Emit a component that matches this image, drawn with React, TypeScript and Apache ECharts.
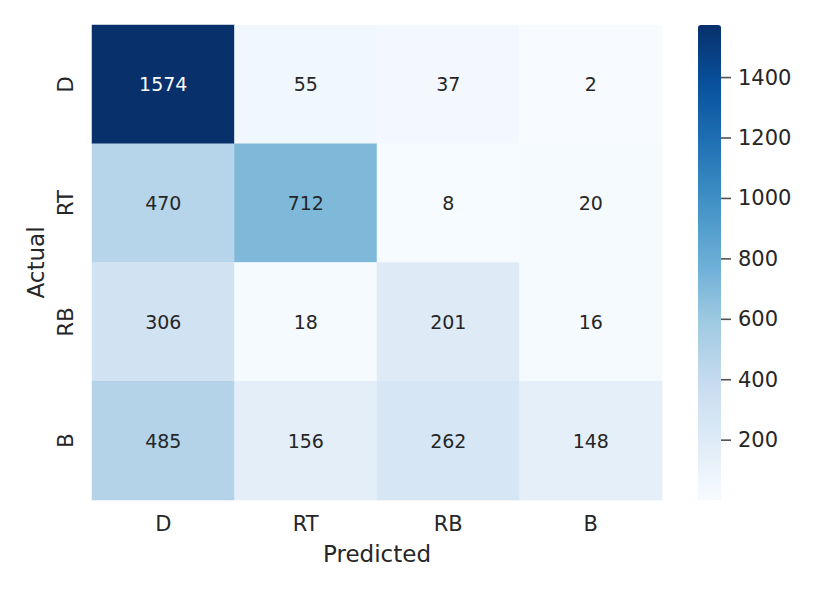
import React, { useEffect, useRef } from "react";
import * as echarts from "echarts";

const predictedLabels = ["D", "RT", "RB", "B"];
const actualLabels = ["D", "RT", "RB", "B"];
const rowD = [1574, 55, 37, 2];
const rowRT = [470, 712, 8, 20];
const rowRB = [306, 18, 201, 16];
const rowB = [485, 156, 262, 148];
const colorbarTicks = [200, 400, 600, 800, 1000, 1200, 1400];

const BLUES = ["#f7fbff", "#deebf7", "#c6dbef", "#9ecae1", "#6baed6", "#4292c6", "#2171b5", "#08519c", "#08306b"];
const FONT = "DejaVu Sans";
const TXT = "#262626";

export default function App() {
  const ref = useRef<HTMLDivElement>(null);
  useEffect(() => {
    if (!ref.current) return;
    const chart = echarts.init(ref.current, null, { renderer: "svg" });
    const rows = [rowD, rowRT, rowRB, rowB];
    const all = rows.flat();
    const vmin = Math.min(...all);
    const vmax = Math.max(...all);
    const data: any[] = [];
    rows.forEach((row, yi) =>
      row.forEach((v, xi) => {
        const t = (v - vmin) / (vmax - vmin);
        data.push({ value: [xi, yi, v], label: { color: t > 0.6 ? "#ffffff" : TXT } });
      })
    );
    chart.setOption({
      animation: false,
      backgroundColor: "#ffffff",
      textStyle: { fontFamily: FONT },
      grid: [
        { left: 92, top: 25, width: 570, height: 475 },
        { left: 698, top: 25, width: 23, height: 475 },
      ],
      xAxis: [
        {
          type: "category",
          data: predictedLabels,
          gridIndex: 0,
          position: "bottom",
          axisLine: { show: false },
          axisTick: { show: false },
          splitLine: { show: false },
          axisLabel: { color: TXT, fontSize: 21, fontFamily: FONT, margin: 13 },
          name: "Predicted",
          nameLocation: "middle",
          nameGap: 42,
          nameTextStyle: { color: TXT, fontSize: 23, fontFamily: FONT },
        },
        { type: "value", gridIndex: 1, show: false, min: 0, max: 1 },
      ],
      yAxis: [
        {
          type: "category",
          data: actualLabels,
          inverse: true,
          gridIndex: 0,
          axisLine: { show: false },
          axisTick: { show: false },
          splitLine: { show: false },
          axisLabel: { color: TXT, fontSize: 21, fontFamily: FONT, rotate: 90, margin: 16 },
          name: "Actual",
          nameLocation: "middle",
          nameGap: 38,
          nameRotate: 90,
          nameTextStyle: { color: TXT, fontSize: 23, fontFamily: FONT },
        },
        {
          type: "value",
          gridIndex: 1,
          position: "right",
          min: vmin,
          max: vmax,
          axisLine: { show: false },
          splitLine: { show: false },
          axisTick: { show: false },
          axisLabel: {
            color: TXT,
            fontSize: 21,
            fontFamily: FONT,
            margin: 17,
            customValues: colorbarTicks,
            formatter: (v: number) => String(v),
          },
        },
      ],
      visualMap: {
        type: "continuous",
        min: vmin,
        max: vmax,
        calculable: false,
        orient: "vertical",
        left: 698,
        top: 25,
        padding: 0,
        itemWidth: 23,
        itemHeight: 475,
        showLabel: false,
        text: ["", ""],
        inRange: { color: BLUES },
        seriesIndex: 0,
      },
      series: [
        {
          type: "heatmap",
          xAxisIndex: 0,
          yAxisIndex: 0,
          data,
          label: { show: true, fontSize: 19, fontFamily: FONT },
          emphasis: { disabled: true },
          itemStyle: { borderWidth: 0 },
        },
        {
          type: "scatter",
          xAxisIndex: 1,
          yAxisIndex: 1,
          clip: false,
          silent: true,
          symbol: "rect",
          symbolSize: [10, 1.6],
          symbolOffset: [5, 0],
          itemStyle: { color: TXT },
          data: colorbarTicks.map((v) => [1, v]),
        },
      ],
    });
    return () => chart.dispose();
  }, []);
  return <div ref={ref} style={{ position: "absolute", left: 0, top: 0, width: 830, height: 593 }} />;
}
